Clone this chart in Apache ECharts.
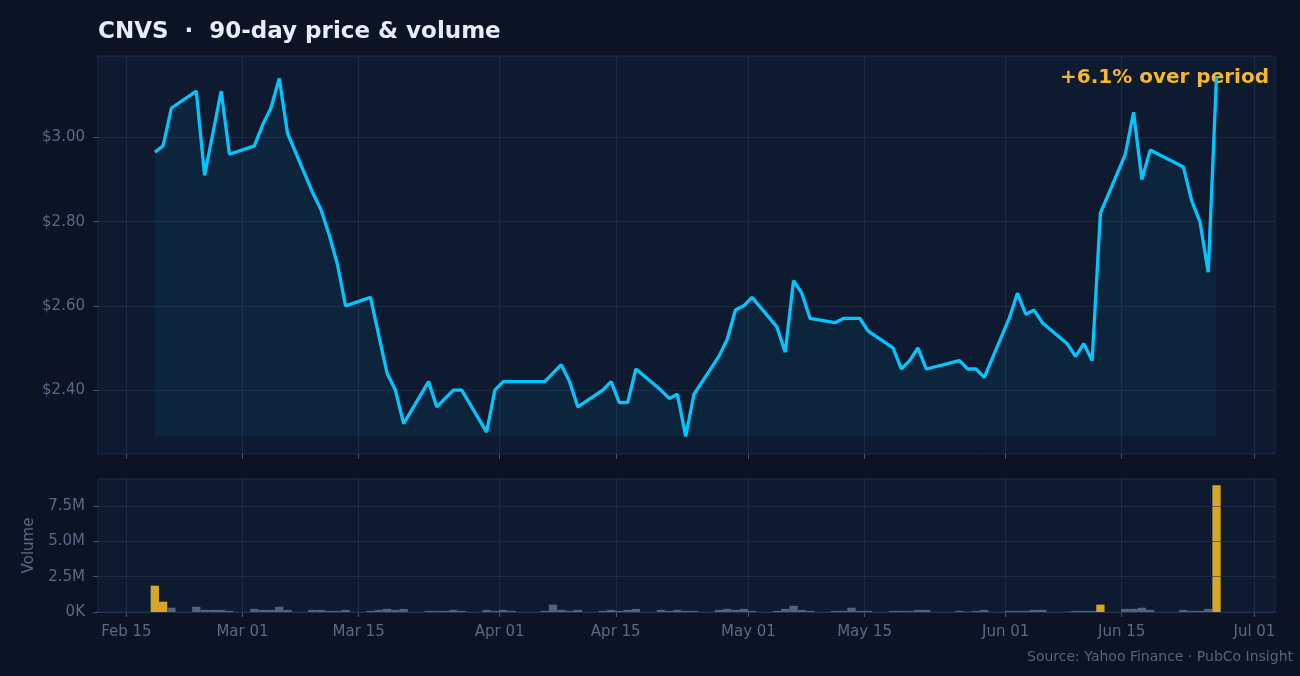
<!DOCTYPE html>
<html>
<head>
<meta charset="utf-8">
<title>CNVS 90-day price &amp; volume</title>
<script src="https://cdn.jsdelivr.net/npm/echarts@6/dist/echarts.min.js"></script>
<style>
    html, body { margin: 0; padding: 0; background: #0b1325; }
    #chart { width: 1300px; height: 676px; }
</style>
</head>
<body>
<div id="chart"></div>
<script>
const ticker = 'CNVS';

const dates = [
    '2025-02-19', '2025-02-20', '2025-02-21',
    '2025-02-24', '2025-02-25', '2025-02-26', '2025-02-27', '2025-02-28',
    '2025-03-03', '2025-03-04', '2025-03-05', '2025-03-06', '2025-03-07',
    '2025-03-10', '2025-03-11', '2025-03-12', '2025-03-13', '2025-03-14',
    '2025-03-17', '2025-03-18', '2025-03-19', '2025-03-20', '2025-03-21',
    '2025-03-24', '2025-03-25', '2025-03-26', '2025-03-27', '2025-03-28',
    '2025-03-31', '2025-04-01', '2025-04-02', '2025-04-03',
    '2025-04-07', '2025-04-08', '2025-04-09', '2025-04-10', '2025-04-11',
    '2025-04-14', '2025-04-15', '2025-04-16', '2025-04-17', '2025-04-18',
    '2025-04-21', '2025-04-22', '2025-04-23', '2025-04-24', '2025-04-25',
    '2025-04-28', '2025-04-29', '2025-04-30', '2025-05-01', '2025-05-02',
    '2025-05-05', '2025-05-06', '2025-05-07', '2025-05-08', '2025-05-09',
    '2025-05-12', '2025-05-13', '2025-05-14', '2025-05-15', '2025-05-16',
    '2025-05-19', '2025-05-20', '2025-05-21', '2025-05-22', '2025-05-23',
    '2025-05-27', '2025-05-28', '2025-05-29', '2025-05-30',
    '2025-06-02', '2025-06-03', '2025-06-04', '2025-06-05', '2025-06-06',
    '2025-06-09', '2025-06-10', '2025-06-11', '2025-06-12', '2025-06-13',
    '2025-06-16', '2025-06-17', '2025-06-18', '2025-06-19',
    '2025-06-23', '2025-06-24', '2025-06-25', '2025-06-26', '2025-06-27'
];

const closes = [
    2.965, 2.98, 3.07,
    3.11, 2.91, 3.01, 3.11, 2.96,
    2.98, 3.03, 3.07, 3.14, 3.01,
    2.87, 2.83, 2.77, 2.70, 2.60,
    2.62, 2.53, 2.44, 2.40, 2.32,
    2.42, 2.36, 2.38, 2.40, 2.40,
    2.30, 2.40, 2.42, 2.42,
    2.42, 2.44, 2.46, 2.42, 2.36,
    2.40, 2.42, 2.37, 2.37, 2.45,
    2.40, 2.38, 2.39, 2.29, 2.39,
    2.48, 2.52, 2.59, 2.60, 2.62,
    2.55, 2.49, 2.66, 2.63, 2.57,
    2.56, 2.57, 2.57, 2.57, 2.54,
    2.50, 2.45, 2.47, 2.50, 2.45,
    2.47, 2.45, 2.45, 2.43,
    2.57, 2.63, 2.58, 2.59, 2.56,
    2.51, 2.48, 2.51, 2.47, 2.82,
    2.96, 3.06, 2.90, 2.97,
    2.93, 2.85, 2.80, 2.68, 3.146
];

// shares traded, millions
const volumesM = [
    1.86, 0.73, 0.30,
    0.37, 0.15, 0.15, 0.15, 0.08,
    0.22, 0.15, 0.15, 0.37, 0.15,
    0.15, 0.15, 0.08, 0.08, 0.15,
    0.08, 0.15, 0.22, 0.15, 0.22,
    0.08, 0.08, 0.08, 0.15, 0.08,
    0.15, 0.08, 0.15, 0.08,
    0.08, 0.52, 0.15, 0.08, 0.15,
    0.08, 0.15, 0.08, 0.15, 0.22,
    0.15, 0.08, 0.15, 0.08, 0.08,
    0.15, 0.22, 0.15, 0.22, 0.08,
    0.08, 0.22, 0.44, 0.15, 0.08,
    0.08, 0.08, 0.30, 0.08, 0.08,
    0.08, 0.08, 0.08, 0.15, 0.15,
    0.08, 0.02, 0.08, 0.15,
    0.08, 0.08, 0.08, 0.15, 0.15,
    0.02, 0.08, 0.08, 0.08, 0.52,
    0.22, 0.22, 0.30, 0.15,
    0.15, 0.08, 0.08, 0.22, 8.95
];

const spikeDays = ['2025-02-19', '2025-02-20', '2025-06-13', '2025-06-27'];

const xTickDates = [
    '2025-02-15', '2025-03-01', '2025-03-15', '2025-04-01', '2025-04-15',
    '2025-05-01', '2025-05-15', '2025-06-01', '2025-06-15', '2025-07-01'
];
const priceTicks = [2.4, 2.6, 2.8, 3.0];
const volumeTicks = [0, 2.5e6, 5e6, 7.5e6];

const MONTHS = ['Jan', 'Feb', 'Mar', 'Apr', 'May', 'Jun', 'Jul', 'Aug', 'Sep', 'Oct', 'Nov', 'Dec'];
const DAY = 24 * 3600 * 1000;
// bars/points sit a little before the calendar midnight on the source chart
const SHIFT = 13.7 * 3600 * 1000;

const dayTs = d => new Date(d + 'T00:00:00').getTime();
const pointTs = d => dayTs(d) - SHIFT;

const priceData = dates.map((d, i) => [pointTs(d), closes[i]]);
const volumeData = dates.map((d, i) => ({
    value: [pointTs(d), volumesM[i] * 1e6],
    itemStyle: { color: spikeDays.includes(d) ? '#d6a62a' : '#56627a' }
}));

const lo = Math.min(...closes);
const hi = Math.max(...closes);
const span = hi - lo;
const changePct = (closes[closes.length - 1] / closes[0] - 1) * 100;
const volMax = Math.max(...volumesM) * 1e6 * 1.05;

const xMin = pointTs(dates[0]) - 6.85 * DAY;
const xMax = pointTs(dates[dates.length - 1]) + 7.05 * DAY;
const xTicks = xTickDates.map(dayTs);

const FONT = '"DejaVu Sans", sans-serif';
const labelColor = '#5b6982';
const gridLine = 'rgba(38, 52, 78, 0.6)';
const tickColor = '#46536b';

const fmtDate = v => {
    const d = new Date(v);
    return MONTHS[d.getMonth()] + ' ' + String(d.getDate()).padStart(2, '0');
};

const myEcharts = echarts.init(document.getElementById('chart'));
const option = {
    backgroundColor: '#0b1325',
    animation: false,
    textStyle: { fontFamily: FONT },
    grid: [
        { left: 98, right: 25, top: 56, height: 398, show: true, backgroundColor: '#0e1a30', borderColor: '#1e2a42', borderWidth: 1 },
        { left: 98, right: 25, top: 479, height: 133, show: true, backgroundColor: '#0e1a30', borderColor: '#1e2a42', borderWidth: 1 }
    ],
    // timestamps on a plain value axis so the 1st/15th ticks can be listed
    xAxis: [{
        type: 'value',
        gridIndex: 0,
        min: xMin,
        max: xMax,
        axisLine: { show: false },
        axisTick: { show: true, length: 5, lineStyle: { color: tickColor }, customValues: xTicks },
        axisLabel: { show: false, customValues: xTicks },
        splitLine: { show: true, lineStyle: { color: gridLine } }
    }, {
        type: 'value',
        gridIndex: 1,
        min: xMin,
        max: xMax,
        axisLine: { show: true, lineStyle: { color: '#26334b' } },
        axisTick: { show: true, length: 5, lineStyle: { color: tickColor }, customValues: xTicks },
        axisLabel: {
            color: labelColor,
            fontSize: 15,
            margin: 13,
            customValues: xTicks,
            formatter: fmtDate
        },
        splitLine: { show: true, lineStyle: { color: gridLine } }
    }],
    yAxis: [{
        type: 'value',
        gridIndex: 0,
        min: lo - span * 0.049,
        max: hi + span * 0.0555,
        axisLine: { show: false },
        axisTick: { show: true, length: 5, lineStyle: { color: tickColor }, customValues: priceTicks },
        axisLabel: {
            color: labelColor,
            fontSize: 15,
            margin: 13,
            customValues: priceTicks,
            formatter: v => '$' + v.toFixed(2)
        },
        splitLine: { show: true, lineStyle: { color: gridLine } }
    }, {
        type: 'value',
        gridIndex: 1,
        min: 0,
        max: volMax,
        z: 3, // grid lines drawn over the bars
        name: 'Volume',
        nameLocation: 'middle',
        nameGap: 61,
        nameTextStyle: { color: labelColor, fontSize: 15 },
        axisLine: { show: false },
        axisTick: { show: true, length: 5, lineStyle: { color: tickColor }, customValues: volumeTicks },
        axisLabel: {
            color: labelColor,
            fontSize: 15,
            margin: 13,
            customValues: volumeTicks,
            formatter: v => (v === 0 ? '0K' : (v / 1e6).toFixed(1) + 'M')
        },
        splitLine: { show: true, lineStyle: { color: gridLine } }
    }],
    series: [{
        name: 'Close',
        type: 'line',
        xAxisIndex: 0,
        yAxisIndex: 0,
        data: priceData,
        showSymbol: false,
        lineStyle: { color: '#00c6ff', width: 3.3 },
        areaStyle: { color: 'rgba(0, 170, 240, 0.1)', origin: lo }
    }, {
        name: 'Volume',
        type: 'bar',
        xAxisIndex: 1,
        yAxisIndex: 1,
        barWidth: 8.3,
        data: volumeData
    }],
    graphic: [{
        type: 'text',
        left: 98,
        top: 21,
        style: {
            text: ticker + '  \u00b7  90-day price & volume',
            fill: '#e6edf7',
            font: 'bold 23px ' + FONT
        }
    }, {
        type: 'text',
        right: 31,
        top: 68,
        style: {
            text: (changePct >= 0 ? '+' : '') + changePct.toFixed(1) + '% over period',
            fill: '#f5b92b',
            font: 'bold 20px ' + FONT
        }
    }, {
        type: 'text',
        right: 7,
        top: 650,
        style: {
            text: 'Source: Yahoo Finance \u00b7 PubCo Insight',
            fill: '#56647c',
            font: '14px ' + FONT
        }
    }]
};
myEcharts.setOption(option);
</script>
</body>
</html>
